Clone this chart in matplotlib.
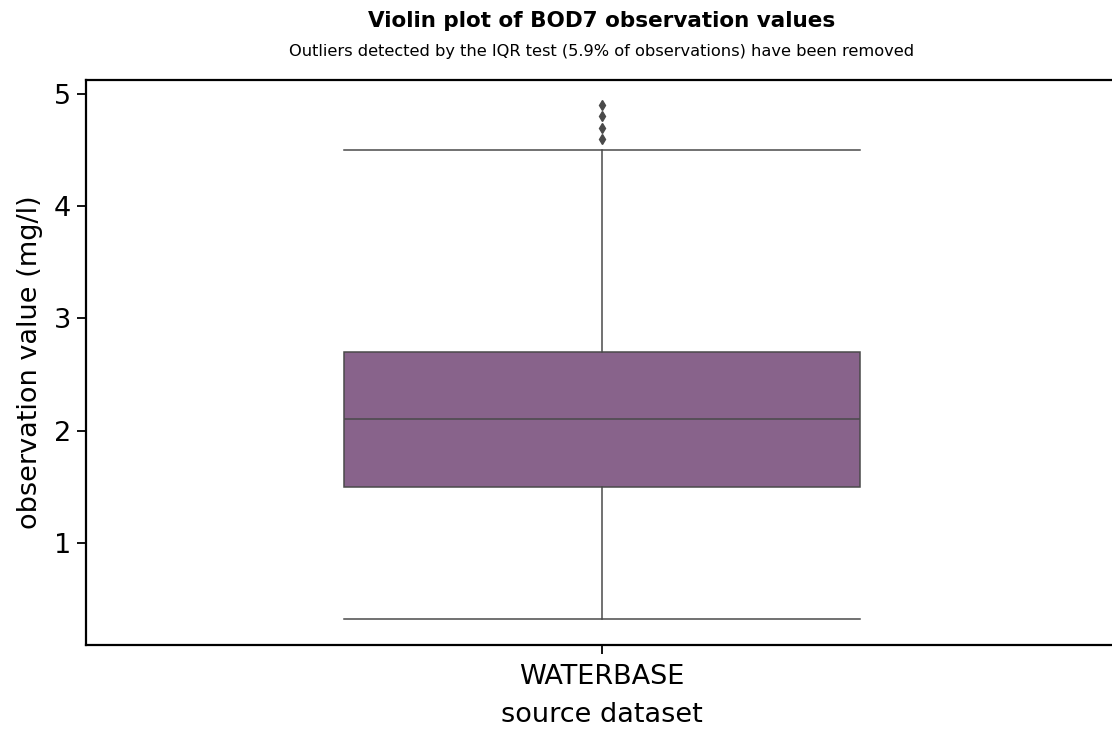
import matplotlib
matplotlib.use("Agg")
import matplotlib.pyplot as plt

categories = ["WATERBASE"]
q1 = [1.5]
median = [2.1]
q3 = [2.7]
whisker_low = [0.32]
whisker_high = [4.5]
outliers = [[4.6, 4.7, 4.8, 4.9]]

fig = plt.figure(figsize=(11.12, 7.3), dpi=100)
ax = fig.add_axes([86/1112, (730-645)/730, 1032/1112, 565/730])

stats = []
for i, c in enumerate(categories):
    stats.append(dict(label=c, q1=q1[i], med=median[i], q3=q3[i],
                      whislo=whisker_low[i], whishi=whisker_high[i], fliers=outliers[i]))

line_c = "#4a4a4a"
ax.bxp(stats, positions=range(len(categories)), widths=0.5, patch_artist=True,
       showfliers=True,
       boxprops=dict(facecolor="#88638b", edgecolor=line_c, linewidth=1.1),
       medianprops=dict(color=line_c, linewidth=1.1),
       whiskerprops=dict(color=line_c, linewidth=1.1),
       capprops=dict(color=line_c, linewidth=1.1),
       flierprops=dict(marker="d", markerfacecolor=line_c, markeredgecolor=line_c, markersize=5.5),
       capwidths=0.5)

ax.set_xlim(-0.5, 0.5)
ax.set_ylim(0.09, 5.125)
ax.set_yticks([1, 2, 3, 4, 5])
ax.tick_params(labelsize=19.5, length=6.5, width=1.3, pad=4)
ax.tick_params(axis="x", pad=7)
for s in ax.spines.values():
    s.set_linewidth(1.6)
ax.set_xlabel("source dataset", fontsize=19.5, labelpad=9)
ax.set_ylabel("observation value (mg/l)", fontsize=19.5, labelpad=8)

ax.text(0.5, 1.105, "Violin plot of BOD7 observation values", transform=ax.transAxes,
        ha="center", va="center", fontsize=15.5, fontweight="bold")
ax.text(0.5, 1.05, "Outliers detected by the IQR test (5.9% of observations) have been removed",
        transform=ax.transAxes, ha="center", va="center", fontsize=11.7)

fig.savefig("out.png", dpi=100)
